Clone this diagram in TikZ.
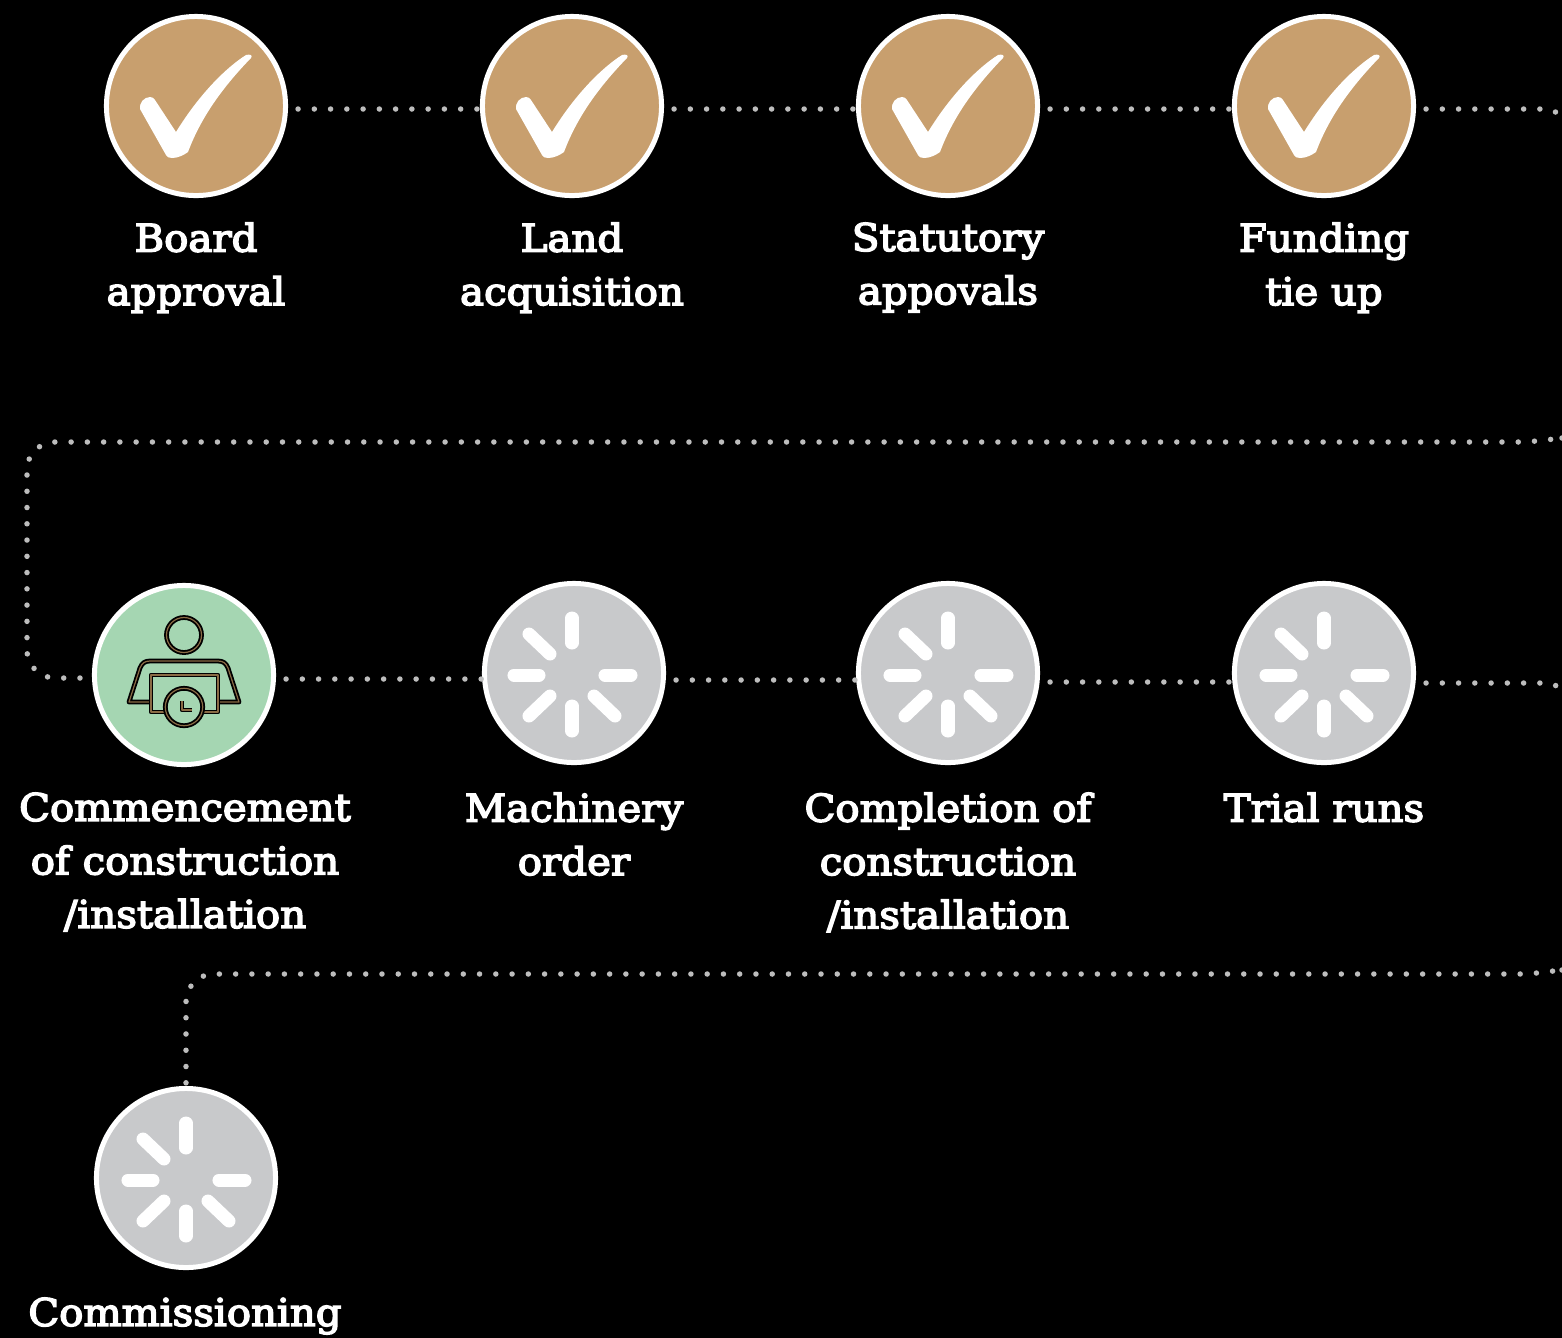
\documentclass[tikz,border=0pt]{standalone}
\usepackage{fontspec}
\setmainfont[FakeBold=4,FakeStretch=1.06]{DejaVu Serif}
\definecolor{tanfill}{HTML}{C89F6E}
\definecolor{greenfill}{HTML}{A5D6B2}
\definecolor{greyfill}{HTML}{C8C9CB}
\definecolor{dotgrey}{HTML}{BDBDBD}
\definecolor{iconbrown}{HTML}{8A6B45}
\tikzset{
  stage/.style={circle,draw=white,line width=0.05cm,minimum size=1.79cm,inner sep=0,fill=#1},
  caption/.style={text=white,align=center,anchor=north,inner sep=0,
    font=\fontsize{10.8pt}{15.2pt}\selectfont},
  dotline/.style={draw=dotgrey,line width=0.055cm,line cap=round,
    dash pattern=on 0pt off 0.1625cm,shorten <=0.1cm},
  icon/.style={draw=black,double=iconbrown,line width=0.018cm,double distance=0.012cm,line join=round},
}
\newcommand\tickmark[1]{% centre of the circle
  \fill[white,shift={(#1)}] (-56,3) .. controls (-57,-3) and (-52,-9) .. (-46,-9)
    .. controls (-44,-9) and (-42,-8) .. (-41,-6) -- (-20,26)
    .. controls (4,-13) and (31,-39) .. (50,-51)
    .. controls (54,-52) and (57,-51) .. (55,-48)
    .. controls (24,-16) and (4,14) .. (-8,46)
    .. controls (-12,49) and (-18,52) .. (-24,52)
    .. controls (-27,52) and (-29,51) .. (-30,49) -- cycle;
}
\newcommand\spinner[1]{% centre of the bars
  \begin{scope}[shift={(#1)},white,line width=0.13cm,line cap=round]
    \draw (0,-55) -- (0,-30);
    \draw (-22,-19) -- (-43,-39);
    \draw (33,2) -- (59,2);
    \draw (-33,2) -- (-58,2);
    \draw (0,33) -- (0,58);
    \draw (-22,23) -- (-43,43);
    \draw (22,23) -- (43,43);
  \end{scope}
}
\begin{document}
\begin{tikzpicture}[x=0.01cm,y=-0.01cm]
	\useasboundingbox (0,0) rectangle (1562,1338);
	\fill[black] (0,0) rectangle (1562,1338);
	\clip (0,0) rectangle (1562,1338);

	% first row
	\node[stage=tanfill] (board) at (196,106) {};
	\node[stage=tanfill] (land) at (572,106) {};
	\node[stage=tanfill] (statutory) at (948,106) {};
	\node[stage=tanfill] (funding) at (1324,106) {};

	% second row
	\node[stage=greenfill] (commence) at (184,675) {};
	\node[stage=greyfill] (machinery) at (574,673) {};
	\node[stage=greyfill] (completion) at (948,673) {};
	\node[stage=greyfill] (trial) at (1324,673) {};

	% last one
	\node[stage=greyfill] (commission) at (186,1178) {};

	\foreach \c in {board,land,statutory,funding}{
		\tickmark{\c}
	}
	\foreach \c in {completion,trial,commission}{
		\spinner{\c}
	}
	\spinner{572,673}

	% person with clock
	\begin{scope}[shift={(commence)}]
		\draw[icon] (0,-40) circle[radius=17.5];
		\draw[icon] (-34,27) -- (-55,27) -- (-44,-7) .. controls (-42,-12) and (-39,-14) .. (-34,-14)
			-- (34,-14) .. controls (39,-14) and (42,-12) .. (44,-7) -- (55,27) -- (34,27);
		\draw[icon] (-33,0) rectangle (34,37);
		\draw[icon,fill=greenfill] (0,32) circle[radius=18.7];
		\draw[icon] (-2,26) -- (-2,35) -- (8,35);
	\end{scope}

	\coordinate (edgea) at (1562,115);
	\coordinate (edgeb) at (1562,438);
	\coordinate (edgec) at (1562,688);
	\coordinate (edged) at (1562,970);
	\coordinate (bendleft) at (27,442);
	\coordinate (benddown) at (27,678);
	\coordinate (bendlow) at (186,974);

	\draw[dotline] ([yshift=-0.03cm]board.east) -- ([yshift=-0.03cm]land.west);
	\draw[dotline] ([yshift=-0.03cm]land.east) -- ([yshift=-0.03cm]statutory.west);
	\draw[dotline] ([yshift=-0.03cm]statutory.east) -- ([yshift=-0.03cm]funding.west);
	\draw[dotline] ([yshift=-0.03cm]funding.east) -- (1549,109) -- (edgea);

	\draw[dotline,shorten <=0pt,rounded corners=0.28cm] (edgeb) -- (1545,442) -- (bendleft) -- (benddown) -- ([yshift=-0.03cm]commence.west);

	\draw[dotline] ([yshift=-0.04cm]commence.east) -- ([yshift=-0.06cm]machinery.west);
	\draw[dotline] ([yshift=-0.07cm]machinery.east) -- ([yshift=-0.07cm]completion.west);
	\draw[dotline] ([yshift=-0.09cm]completion.east) -- ([yshift=-0.09cm]trial.west);
	\draw[dotline] ([yshift=-0.1cm]trial.east) -- (1549,683) -- (edgec);

	\draw[dotline,shorten <=0pt,rounded corners=0.28cm] (edged) -- (1546,974) -- (bendlow) -- (commission.north);

	% captions
	\node[caption] (tboard) at (196,222) {Board\\approval};
	\node[caption] (tland) at (572,222) {Land\\acquisition};
	\node[caption] (tstatutory) at (948,222) {Statutory\\appovals};
	\node[caption] (tfunding) at (1324,222) {Funding\\tie up};
	\node[caption] (tcommence) at (185,792) {Commencement\\of construction\\/installation};
	\node[caption] (tmachinery) at (574,792) {Machinery\\order};
	\node[caption] (tcompletion) at (948,792) {Completion of\\construction\\/installation};
	\node[caption] (ttrial) at (1324,792) {Trial runs};
	\node[caption] (tcommission) at (185,1297) {Commissioning};
\end{tikzpicture}
\end{document}
